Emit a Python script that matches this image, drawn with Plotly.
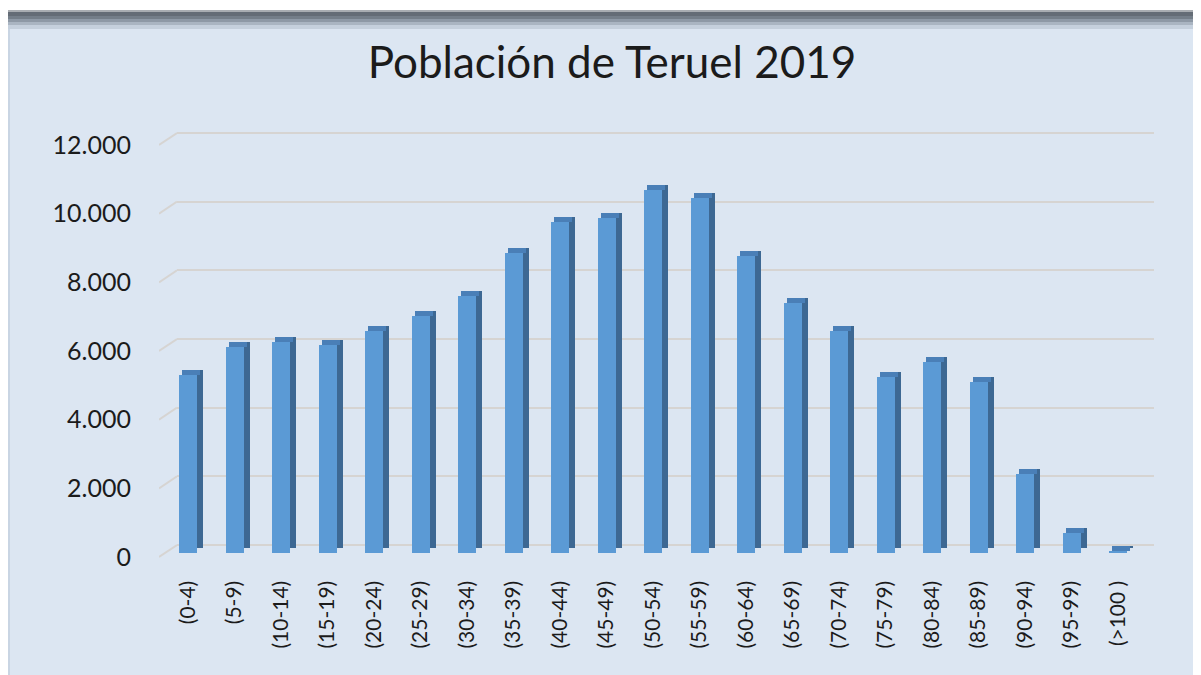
import plotly.graph_objects as go

categories = ["(0-4)", "(5-9)", "(10-14)", "(15-19)", "(20-24)", "(25-29)", "(30-34)",
              "(35-39)", "(40-44)", "(45-49)", "(50-54)", "(55-59)", "(60-64)", "(65-69)",
              "(70-74)", "(75-79)", "(80-84)", "(85-89)", "(90-94)", "(95-99)", "(>100 )"]
poblacion = [5183, 5990, 6125, 6057, 6445, 6882, 7465, 8727, 9630, 9736, 10550,
             10338, 8628, 7271, 6465, 5116, 5543, 4960, 2291, 582, 40]
tick_vals = [0, 2000, 4000, 6000, 8000, 10000, 12000]
tick_text = ["0", "2.000", "4.000", "6.000", "8.000", "10.000", "12.000"]
title_text = "Población de Teruel 2019"

# the page body has an 8px margin; work in screen pixels and convert
O = 8
W, H = 1201 - O, 675 - O
BG = "#dce6f2"
FONT = "Lato"
TXT = "#1b1b1b"

def fx(px):
    return (px - O) / W

def fy(py):
    return 1 - (py - O) / H

PX_PER_UNIT_Y = 412 / 12000.0
YR = [-600, 12600]
CAT_PX = 46.5

def ydom(zero_px):
    lo = zero_px - YR[0] * PX_PER_UNIT_Y
    hi = zero_px - YR[1] * PX_PER_UNIT_Y
    return [fy(lo), fy(hi)]

front_x = [159, 1136]
back_x = [177, 1154]
first_center = 188
xr0 = -(first_center - front_x[0]) / CAT_PX
xr = [xr0, xr0 + (front_x[1] - front_x[0]) / CAT_PX]

face_w = 18 / CAT_PX
face_off = -9 / CAT_PX
depth_dx = 6 / CAT_PX
depth_dy = 5 / PX_PER_UNIT_Y

idx = list(range(len(categories)))

fig = go.Figure()

# back wall subplot (x/y): only its gridlines are visible; drawn first so bars sit in front
fig.add_trace(go.Scatter(x=[0], y=[0], mode="markers", marker=dict(opacity=0),
                         xaxis="x", yaxis="y", hoverinfo="skip", showlegend=False))

# bars subplot (x2/y2)
fig.add_trace(go.Bar(x=idx, y=poblacion, base=[depth_dy] * len(idx), width=face_w,
                     offset=face_off + depth_dx, marker=dict(color="#3d6893", line=dict(width=0)),
                     xaxis="x2", yaxis="y2", hoverinfo="skip", showlegend=False))
fig.add_trace(go.Bar(x=idx, y=[depth_dy] * len(idx), base=poblacion, width=face_w,
                     offset=face_off + depth_dx / 2, marker=dict(color="#4a7fb7", line=dict(width=0)),
                     xaxis="x2", yaxis="y2", hoverinfo="skip", showlegend=False))
fig.add_trace(go.Bar(x=idx, y=poblacion, width=face_w, offset=face_off,
                     marker=dict(color="#5b9ad5", line=dict(width=0)),
                     xaxis="x2", yaxis="y2", name="Población", showlegend=False))

# slanted connectors of the gridlines (front plane -> back wall)
sx, sy = [], []
shift = 12 / PX_PER_UNIT_Y
for v in tick_vals:
    sx += [0, 1, None]
    sy += [v, v + shift, None]
fig.add_trace(go.Scatter(x=sx, y=sy, mode="lines", line=dict(color="#d6d4d2", width=2),
                         xaxis="x3", yaxis="y3", hoverinfo="skip", showlegend=False))

fig.update_layout(
    width=W, height=H,
    margin=dict(l=0, r=0, t=0, b=0),
    paper_bgcolor=BG, plot_bgcolor="rgba(0,0,0,0)",
    bargap=0, barmode="overlay",
    font=dict(family=FONT, color=TXT),
    title=dict(text=title_text, x=fx(612), xanchor="center", y=fy(63), yanchor="middle",
               font=dict(family=FONT, size=44, color=TXT)),
    xaxis=dict(domain=[fx(back_x[0]), fx(back_x[1])], range=xr, anchor="y",
               showgrid=False, zeroline=False, showticklabels=False, showline=False),
    yaxis=dict(domain=ydom(545), range=YR, anchor="x",
               tickmode="array", tickvals=tick_vals, showticklabels=False,
               showgrid=True, gridcolor="#d6d4d2", gridwidth=2, zeroline=False, showline=False),
    xaxis2=dict(domain=[fx(front_x[0]), fx(front_x[1])], range=xr, anchor="y2",
                tickmode="array", tickvals=idx, ticktext=categories, tickangle=-90,
                tickfont=dict(family=FONT, size=21, color=TXT), ticks="",
                showgrid=False, zeroline=False, showline=False, ticklabelstandoff=2),
    yaxis2=dict(domain=ydom(553), range=YR, anchor="x2", showgrid=False, zeroline=False,
                showticklabels=False, showline=False),
    xaxis3=dict(domain=[fx(front_x[0]), fx(back_x[0])], range=[0, 1], anchor="y3",
                showgrid=False, zeroline=False, showticklabels=False, showline=False),
    yaxis3=dict(domain=ydom(557), range=YR, anchor="x3",
                tickmode="array", tickvals=tick_vals, ticktext=tick_text,
                tickfont=dict(family=FONT, size=25, color=TXT), ticks="",
                showgrid=False, zeroline=False, showline=False, ticklabelstandoff=27),
)

# chart box frame: thin left edge and the dark top shadow
shapes = [
    dict(type="rect", xref="paper", yref="paper", x0=0, x1=fx(10), y0=0, y1=1,
         fillcolor="#c9d5e3", line=dict(width=0), layer="below"),
    dict(type="rect", xref="paper", yref="paper", x0=0, x1=1, y0=fy(10), y1=1,
         fillcolor="white", line=dict(width=0), layer="below"),
]
bands = [(10, 12, "#a9adb2"), (12, 16, "#646c76"), (16, 19, "#747e89"),
         (19, 22, "#8e99a6"), (22, 25, "#aab5c2"), (25, 29, "#c5d0dd")]
for a, b, c in bands:
    shapes.append(dict(type="rect", xref="paper", yref="paper", x0=0, x1=1,
                       y0=fy(b), y1=fy(a), fillcolor=c, line=dict(width=0), layer="below"))
fig.update_layout(shapes=shapes)

fig.write_html("out.html")
